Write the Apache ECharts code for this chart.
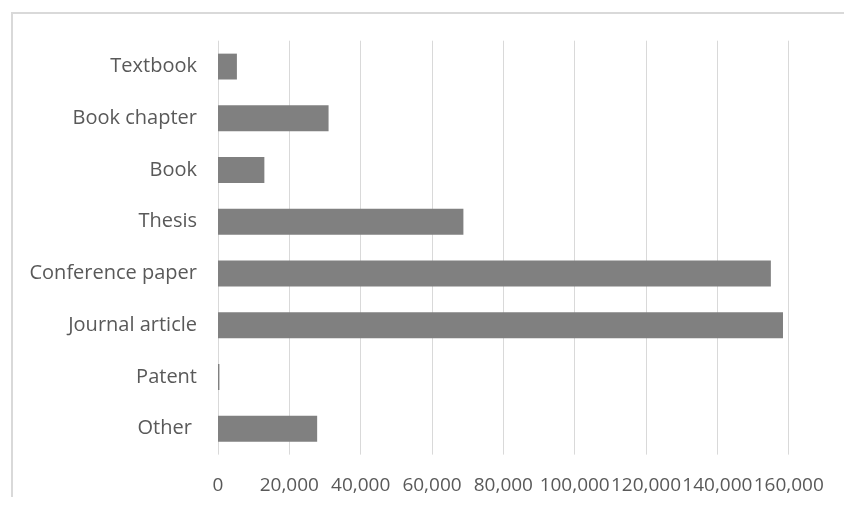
<!DOCTYPE html>
<html>
<head>
<meta charset="utf-8">
<script src="https://cdn.jsdelivr.net/npm/echarts@6/dist/echarts.min.js"></script>
<style>
  html, body { margin: 0; padding: 0; background: #ffffff; }
  #chart { width: 844px; height: 506px; }
</style>
</head>
<body>
<div id="chart"></div>
<script>
// Publication types, listed top to bottom
const categories = ['Textbook', 'Book chapter', 'Book', 'Thesis', 'Conference paper', 'Journal article', 'Patent', 'Other '];
// Number of records per type
const counts = [5300, 31000, 13000, 68800, 155000, 158400, 400, 27800];
// Value axis ticks
const xTicks = [0, 20000, 40000, 60000, 80000, 100000, 120000, 140000, 160000];

const textColor = '#595959';
const gridColor = '#d9d9d9';
const fontFamily = '"Open Sans", "Noto Sans", sans-serif';

const chart = echarts.init(document.getElementById('chart'), null, { renderer: 'canvas' });

chart.setOption({
  animation: false,
  backgroundColor: '#ffffff',
  graphic: [
    // frame lines of the chart area
    { type: 'line', shape: { x1: 11, y1: 13, x2: 844, y2: 13 }, style: { stroke: gridColor, lineWidth: 2 }, silent: true },
    { type: 'line', shape: { x1: 12, y1: 12, x2: 12, y2: 497 }, style: { stroke: gridColor, lineWidth: 2 }, silent: true }
  ],
  grid: { left: 218, right: 55.3, top: 40.7, bottom: 51.4, containLabel: false },
  xAxis: {
    type: 'value',
    min: xTicks[0],
    max: xTicks[xTicks.length - 1],
    interval: xTicks[1] - xTicks[0],
    axisLine: { show: false },
    axisTick: { show: false },
    splitLine: { show: true, lineStyle: { color: gridColor, width: 1 } },
    axisLabel: {
      color: textColor,
      fontFamily: fontFamily,
      fontSize: 19,
      margin: 21,
      formatter: v => v.toLocaleString('en-US')
    }
  },
  yAxis: {
    type: 'category',
    data: categories,
    inverse: true,
    axisLine: { show: false },
    axisTick: { show: false },
    splitLine: { show: false },
    axisLabel: {
      color: textColor,
      fontFamily: fontFamily,
      fontSize: 20,
      margin: 21
    }
  },
  series: [{
    type: 'bar',
    data: counts,
    barCategoryGap: '50%',
    itemStyle: { color: '#808080' }
  }]
});
</script>
</body>
</html>
